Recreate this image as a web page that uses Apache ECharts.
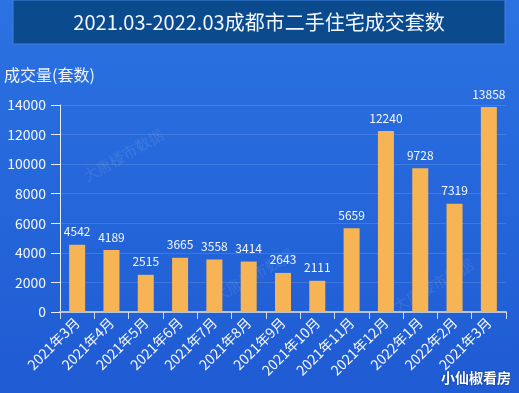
<!DOCTYPE html>
<html><head><meta charset="utf-8">
<script src="https://cdn.jsdelivr.net/npm/echarts@6/dist/echarts.min.js"></script>
<style>html,body{margin:0;padding:0;}#c{width:519px;height:393px;}</style>
</head><body><div id="c"></div>
<script>
const categories = ['2021年3月','2021年4月','2021年5月','2021年6月','2021年7月','2021年8月','2021年9月','2021年10月','2021年11月','2021年12月','2022年1月','2022年2月','2021年3月'];
const volumes = [4542, 4189, 2515, 3665, 3558, 3414, 2643, 2111, 5659, 12240, 9728, 7319, 13858];
const yTicks = [0, 2000, 4000, 6000, 8000, 10000, 12000, 14000];
const titleText = '2021.03-2022.03成都市二手住宅成交套数';
const yName = '成交量(套数)';
const credit = '小仙椒看房';
const watermark = '大唐楼市数据';

const chart = echarts.init(document.getElementById('c'));
const font = '"Noto Sans CJK SC","Noto Sans",sans-serif';
chart.setOption({
  backgroundColor: new echarts.graphic.LinearGradient(0,0,0,1,[{offset:0,color:'#2b72e2'},{offset:1,color:'#1f5bd3'}]),
  graphic: [
    {type:'rect', shape:{x:13,y:0,width:492,height:44}, style:{fill:'#0c4a8e', stroke:'#3f80dc', lineWidth:1}},
    {type:'text', x:259, y:22, style:{text:titleText, fill:'#f2f6ff', font:'20px '+font, textAlign:'center', textVerticalAlign:'middle'}},
    {type:'text', x:4, y:75, style:{text:yName, fill:'#eef3ff', font:'16px '+font, textVerticalAlign:'middle'}},
    {type:'text', x:511, y:378, style:{text:credit, fill:'#ffffff', font:'bold 14px '+font, textAlign:'right', textVerticalAlign:'middle', textShadowColor:'rgba(0,0,0,0.5)', textShadowBlur:2}},
    {type:'text', x:120, y:150, rotation:Math.PI/6, style:{text:watermark, fill:'rgba(255,255,255,0.1)', font:'15px serif', textAlign:'center'}},
    {type:'text', x:250, y:270, rotation:Math.PI/6, style:{text:watermark, fill:'rgba(255,255,255,0.1)', font:'15px serif', textAlign:'center'}},
    {type:'text', x:430, y:280, rotation:Math.PI/6, style:{text:watermark, fill:'rgba(255,255,255,0.1)', font:'15px serif', textAlign:'center'}}
  ],
  grid: {left:60, right:13, top:105, bottom:81, containLabel:false},
  xAxis: {
    type:'category', data:categories,
    axisLine:{lineStyle:{color:'#b8c4d6', width:2}},
    axisTick:{show:true, lineStyle:{color:'#d0dae8'}, length:7},
    axisLabel:{rotate:45, color:'#f4f7ff', fontSize:14, fontFamily:font, margin:8, interval:0}
  },
  yAxis: {
    type:'value', min:0, max:14000, interval:2000,
    axisLine:{show:true, lineStyle:{color:'#e8eef8'}},
    axisTick:{show:true, lineStyle:{color:'#e8eef8'}, length:9},
    axisLabel:{color:'#f4f7ff', fontSize:14, fontFamily:font, margin:14,
      formatter: v => yTicks.includes(v) ? String(v) : ''},
    splitLine:{lineStyle:{color:'rgba(255,255,255,0.13)'}}
  },
  series: [{
    type:'bar', data:volumes, barWidth:16,
    itemStyle:{color:'#f7b455'},
    label:{show:true, position:'top', distance:7, color:'#f4f7ff', fontSize:12, fontFamily:font}
  }]
});
</script></body></html>
